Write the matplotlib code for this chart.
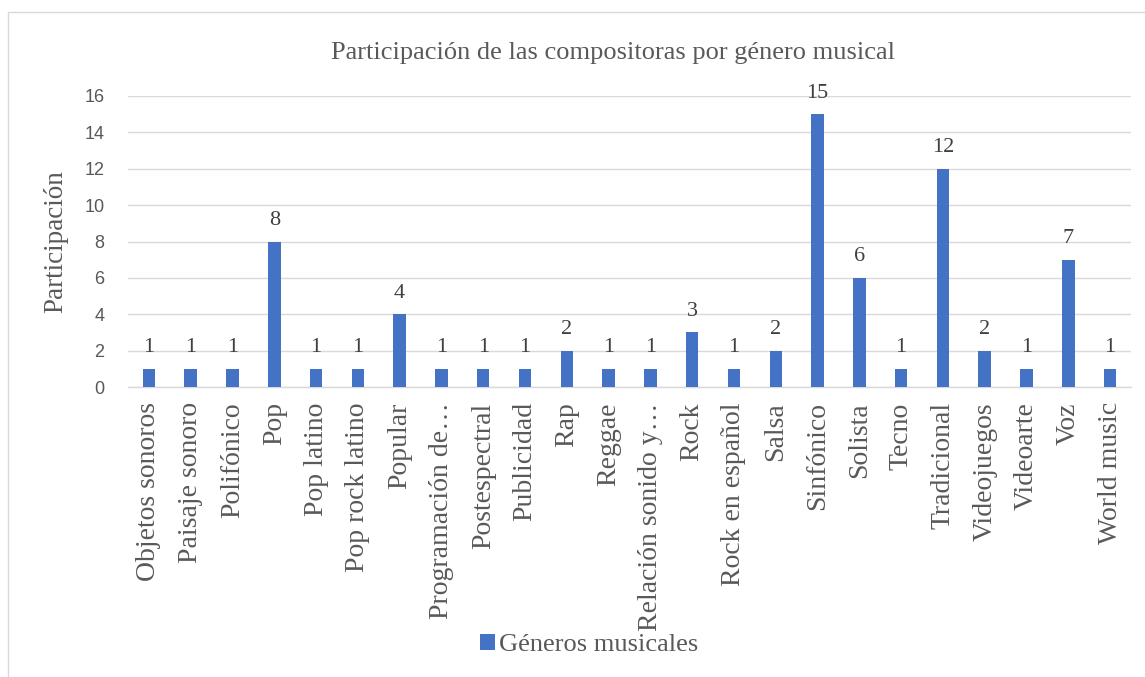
import matplotlib.pyplot as plt
from matplotlib.patches import Rectangle

# data
generos = ["Objetos sonoros", "Paisaje sonoro", "Polifónico", "Pop", "Pop latino",
           "Pop rock latino", "Popular", "Programación de…", "Postespectral",
           "Publicidad", "Rap", "Reggae", "Relación sonido y…", "Rock",
           "Rock en español", "Salsa", "Sinfónico", "Solista", "Tecno",
           "Tradicional", "Videojuegos", "Videoarte", "Voz", "World music"]
participacion = [1, 1, 1, 8, 1, 1, 4, 1, 1, 1, 2, 1, 1, 3, 1, 2, 15, 6, 1, 12, 2, 1, 7, 1]
yticks = [0, 2, 4, 6, 8, 10, 12, 14, 16]

W, H = 1145, 677
fig = plt.figure(figsize=(W / 100, H / 100), dpi=100)
ax = fig.add_axes([128 / W, 1 - 387 / H, (1131 - 128) / W, (387 - 96) / H])

serif = "Liberation Serif"
txt = "#595959"
blue = "#4472C4"

x = list(range(len(generos)))
bars = ax.bar(x, participacion, width=0.3, color=blue, label="Géneros musicales", zorder=3)
for xi, v in zip(x, participacion):
    ax.annotate(str(v), (xi, v), xytext=(0, 12), textcoords="offset points",
                ha="center", va="baseline", family=serif, fontsize=16, color="#404040")

ax.set_xlim(-0.5, len(generos) - 0.5)
ax.set_ylim(0, 16)
ax.set_yticks(yticks)
ax.set_yticklabels([str(t) for t in yticks], family="Liberation Sans", fontsize=13, color=txt)
ax.set_xticks(x)
ax.set_xticklabels(generos, rotation=90, family=serif, fontsize=20, color=txt)
ax.tick_params(axis="x", length=0, pad=11)
ax.tick_params(axis="y", length=0, pad=17)
ax.grid(axis="y", color="#d9d9d9", linewidth=1, zorder=0)
for s in ["top", "right", "left"]:
    ax.spines[s].set_visible(False)
ax.spines["bottom"].set_color("#d9d9d9")
ax.spines["bottom"].set_linewidth(1)

ax.set_ylabel("Participación", family=serif, fontsize=19.5, color=txt)
ax.yaxis.set_label_coords(-0.06, 0.5)
fig.text(613 / W, 1 - 59 / H, "Participación de las compositoras por género musical",
         ha="center", va="baseline", family=serif, fontsize=19, color=txt)

fig.legend(handles=[bars], loc="center", bbox_to_anchor=(589 / W, 1 - 645 / H),
           frameon=False, prop={"family": serif, "size": 19}, handlelength=0.55,
           handleheight=0.55, handletextpad=0.15, labelcolor=txt)

fig.patches.append(Rectangle((8 / W, -0.01), (W - 8) / W + 0.01, 1 - 12 / H + 0.01,
                             transform=fig.transFigure, fill=False, edgecolor="#d9d9d9",
                             linewidth=1))

fig.savefig("out.png", dpi=100)
